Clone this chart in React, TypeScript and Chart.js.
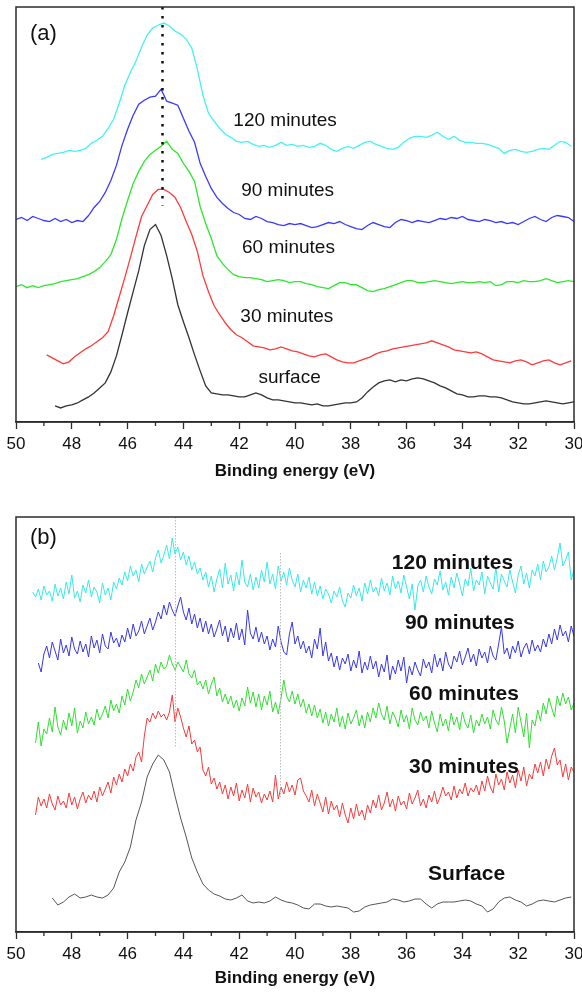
import React, { useEffect, useRef } from 'react';
import { Chart, registerables } from 'chart.js';

Chart.register(...registerables);

// ---------- shared axis ----------
const ENERGY_MIN = 30;
const ENERGY_MAX = 50;
const MAJOR_TICK_STEP = 2;
const MINOR_TICKS = [49, 47, 45, 43, 41, 39, 37, 35, 33, 31];
const AXIS_TITLE = 'Binding energy (eV)';

// ---------- panel (a): smoothed spectra, 0.2 eV step ----------
const A_STEP = 0.2;
const A_Y_MAX = 414;
const a120Start = 49.1;
const a120 = [
  262, 264, 267, 268, 269, 271, 270, 271, 273, 278,
  281, 285, 293, 302, 318, 336, 349, 360, 374, 386,
  393, 396, 398, 395, 390, 387, 382, 373, 352, 326,
  308, 300, 293, 287, 284, 280, 279, 280, 277, 275,
  276, 274, 276, 279, 276, 277, 275, 276, 274, 275,
  278, 276, 272, 270, 273, 275, 273, 276, 279, 280,
  277, 275, 273, 272, 274, 279, 283, 285, 285, 284,
  286, 289, 285, 282, 285, 281, 279, 279, 278, 278,
  277, 275, 273, 268, 271, 272, 270, 269, 270, 272,
  273, 272, 276, 280, 279, 275,
];
const a90Start = 50.0;
const a90 = [
  202, 204, 201, 205, 203, 201, 200, 203, 200, 202,
  199, 201, 200, 206, 214, 220, 229, 241, 256, 276,
  292, 306, 317, 321, 324, 325, 332, 320, 318, 316,
  303, 290, 279, 258, 245, 233, 224, 218, 213, 209,
  207, 203, 202, 205, 203, 200, 199, 197, 196, 198,
  197, 198, 196, 194, 195, 197, 199, 198, 200, 197,
  195, 193, 192, 196, 199, 197, 195, 194, 199, 202,
  201, 199, 201, 200, 199, 201, 203, 202, 204, 203,
  205, 202, 201, 200, 202, 201, 199, 200, 198, 199,
  197, 200, 203, 205, 202, 200, 204, 206, 205, 204,
  200,
];
const a60Start = 50.0;
const a60 = [
  135, 137, 134, 136, 134, 136, 137, 138, 140, 141,
  142, 143, 145, 147, 150, 154, 160, 167, 182, 203,
  221, 238, 250, 260, 267, 271, 275, 280, 272, 268,
  258, 250, 240, 215, 198, 183, 166, 158, 152, 147,
  145, 144, 144, 143, 142, 140, 141, 142, 141, 139,
  140, 140, 138, 137, 135, 134, 133, 136, 139, 139,
  137, 137, 134, 131, 130, 132, 133, 135, 137, 139,
  141, 141, 139, 139, 140, 141, 140, 139, 138, 139,
  140, 139, 139, 140, 139, 140, 136, 137, 140, 140,
  139, 141, 140, 140, 141, 143, 141, 139, 140, 141,
  140,
];
const a30Start = 48.9;
const a30 = [
  67, 64, 61, 58, 60, 65, 69, 73, 76, 80,
  84, 90, 106, 125, 144, 164, 185, 205, 216, 227,
  232, 232, 229, 224, 214, 200, 187, 170, 146, 130,
  116, 107, 99, 92, 87, 84, 80, 76, 75, 74,
  72, 73, 75, 73, 71, 70, 68, 66, 65, 67,
  68, 65, 62, 60, 59, 59, 61, 63, 65, 68,
  70, 71, 73, 74, 75, 76, 77, 78, 79, 81,
  79, 77, 75, 72, 71, 70, 69, 70, 68, 65,
  62, 61, 60, 59, 61, 62, 60, 57, 59, 61,
  62, 59, 57, 59, 61,
];
const aSurfStart = 48.6;
const aSurf = [
  16, 14, 16, 17, 19, 22, 25, 29, 34, 39,
  50, 66, 87, 109, 130, 151, 176, 192, 197, 186,
  166, 143, 117, 100, 84, 67, 51, 36, 29, 28,
  27, 27, 26, 25, 25, 27, 29, 27, 24, 22,
  22, 21, 20, 19, 19, 18, 17, 18, 16, 16,
  17, 18, 19, 19, 20, 24, 30, 35, 39, 41,
  42, 40, 42, 41, 43, 44, 43, 41, 39, 36,
  34, 31, 28, 27, 25, 25, 26, 26, 25, 25,
  24, 22, 20, 19, 18, 18, 19, 20, 21, 20,
  19, 18, 19, 20,
];

// ---------- panel (b): raw spectra, 0.1 eV step ----------
const B_STEP = 0.1;
const B_Y_MAX = 415;
const b120Start = 49.4;
const b120 = [
  340, 335, 343, 332, 346, 337, 341, 331, 348, 336,
  344, 333, 350, 338, 357, 334, 341, 330, 347, 339,
  352, 335, 345, 340, 329, 349, 337, 344, 332, 350,
  343, 354, 347, 360, 351, 366, 356, 362, 350, 368,
  358, 365, 371, 360, 374, 382, 369, 377, 387, 373,
  394, 378, 385, 372, 380, 367, 376, 362, 370, 358,
  364, 352, 360, 345, 356, 340, 353, 363, 344, 369,
  348, 357, 341, 360, 347, 372, 350, 345, 358, 342,
  355, 344, 362, 350, 370, 348, 358, 343, 366, 351,
  360, 347, 364, 352, 345, 358, 340, 352, 344, 355,
  338, 350, 336, 346, 333, 343, 338, 329, 341, 335,
  345, 331, 325, 339, 334, 347, 336, 344, 331, 349,
  338, 352, 340, 345, 336, 354, 341, 349, 337, 356,
  343, 351, 339, 357, 345, 333, 348, 322, 346, 352,
  340, 356, 345, 338, 353, 347, 361, 342, 350, 337,
  355, 344, 359, 348, 336, 353, 346, 364, 341, 352,
  347, 360, 338, 356, 349, 343, 365, 340, 358, 351,
  345, 362, 350, 339, 357, 366, 348, 359, 344, 362,
  356, 368, 352, 371, 360, 365, 376, 362, 374, 389,
  366, 372, 380, 352, 362,
];
const b90Start = 49.2;
const b90 = [
  269, 260, 278, 286, 274, 290, 281, 272, 293, 279,
  287, 276, 295, 283, 278, 291, 280, 288, 275, 296,
  284, 292, 279, 298, 286, 283, 300, 289, 294, 285,
  297, 290, 304, 293, 308, 296, 301, 311, 298, 306,
  314, 302, 310, 320, 313, 327, 317, 330, 322, 316,
  326, 335, 320, 312, 324, 308, 318, 304, 314, 300,
  311, 298, 308, 295, 303, 312, 296, 306, 290, 304,
  294, 309, 292, 303, 287, 322, 299, 293, 305, 290,
  300, 288, 296, 282, 293, 285, 306, 290, 280, 277,
  298, 310, 288, 296, 283, 291, 279, 286, 274, 293,
  283, 304, 276, 290, 271, 279, 265, 276, 262, 274,
  268, 278, 261, 272, 264, 281, 259, 270, 262, 276,
  263, 271, 255, 268, 260, 277, 252, 266, 258, 272,
  261, 275, 249, 266, 257, 270, 262, 256, 273, 264,
  270, 259, 278, 265, 274, 261, 280, 268, 263, 276,
  270, 281, 267, 275, 284, 270, 278, 266, 283, 274,
  280, 269, 286, 276, 272, 288, 305, 278, 284, 273,
  286, 279, 291, 275, 284, 289, 278, 292, 281, 287,
  280, 293, 285, 298, 288, 303, 292, 307, 296, 301,
  290, 306, 296,
];
const b60Start = 49.3;
const b60 = [
  189, 210, 186, 203, 198, 214, 200, 225, 205, 197,
  212, 202, 219, 206, 224, 199, 211, 204, 220, 208,
  215, 207, 223, 212, 218, 226, 214, 232, 221, 228,
  219, 236, 227, 243, 231, 240, 252, 244, 258, 248,
  255, 262, 251, 268, 259, 270, 263, 266, 277, 268,
  262, 270, 265, 260, 272, 258, 254, 262, 247, 251,
  243, 252, 238, 248, 255, 236, 244, 230, 238, 228,
  236, 224, 232, 221, 234, 226, 245, 229, 240, 225,
  238, 222, 236, 227, 241, 220, 230, 218, 234, 252,
  236, 230, 241, 228, 238, 225, 233, 219, 228, 216,
  227, 214, 223, 209, 220, 206, 218, 210, 224, 205,
  216, 203, 219, 208, 214, 222, 206, 217, 204, 220,
  210, 224, 214, 229, 218, 212, 226, 208, 220, 214,
  205, 222, 210, 217, 203, 224, 212, 207, 220, 211,
  216, 204, 221, 209, 200, 218, 206, 213, 201, 219,
  207, 215, 202, 220, 209, 204, 217, 199, 212, 206,
  218, 208, 215, 203, 222, 212, 207, 225, 211, 189,
  204, 218, 199, 225, 210, 195, 219, 184, 212, 206,
  222, 211, 229, 218, 234, 224, 215, 236, 226, 239,
  228, 235, 222, 229,
];
const b30Start = 49.3;
const b30 = [
  117, 135, 126, 133, 124, 138, 128, 122, 136, 127,
  131, 124, 139, 127, 135, 123, 133, 140, 129, 137,
  132, 141, 130, 145, 136, 143, 150, 139, 155, 147,
  158, 150, 163, 156, 168, 161, 175, 180, 170, 196,
  214, 210, 219, 213, 221, 215, 218, 212, 220, 237,
  210, 224, 215, 204, 195, 206, 188, 192, 180, 185,
  162, 156, 165, 148, 154, 143, 150, 138, 147, 133,
  145, 136, 149, 131, 142, 134, 148, 130, 144, 135,
  140, 129, 138, 132, 141, 130, 157, 133, 145, 138,
  150, 140, 147, 137, 152, 154, 141, 136, 130, 142,
  126, 138, 129, 120, 135, 118, 131, 122, 127, 115,
  129, 117, 109, 124, 113, 128, 116, 122, 112, 127,
  119, 132, 124, 137, 122, 129, 140, 125, 133, 121,
  136, 127, 131, 123, 139, 128, 134, 142, 126, 133,
  124, 137, 130, 141, 128, 135, 145, 136, 140, 132,
  146, 134, 143, 138, 149, 136, 144, 140, 147, 137,
  151, 141, 156, 145, 139, 158, 147, 153, 142, 160,
  149, 157, 144, 162, 151, 165, 146, 158, 153, 168,
  159, 170, 156, 173, 163, 176, 184, 167, 172, 155,
  168, 152, 165, 160,
];
const bSurfStep = 0.2;
const bSurfStart = 48.7;
const bSurf = [
  34, 27, 30, 35, 38, 34, 35, 37, 35, 34,
  37, 44, 60, 70, 85, 112, 130, 155, 168, 177,
  172, 160, 136, 114, 95, 74, 60, 48, 42, 38,
  36, 33, 32, 34, 37, 31, 29, 30, 29, 31,
  35, 32, 30, 29, 27, 24, 23, 28, 28, 26,
  25, 26, 25, 24, 20, 21, 25, 27, 28, 29,
  30, 33, 32, 30, 31, 33, 33, 28, 24, 28,
  30, 30, 30, 31, 32, 31, 28, 26, 20, 23,
  30, 34, 35, 32, 30, 26, 28, 31, 32, 31,
  30, 32, 34, 35,
];

// ---------- annotations ----------
const seriesLabels = ['120 minutes', '90 minutes', '60 minutes', '30 minutes'];
const aSurfaceLabel = 'surface';
const bSurfaceLabel = 'Surface';
// [energy (eV), intensity] anchor of each label (left/baseline)
const aLabelAnchors = [[42.21, 295], [41.93, 225], [41.9, 169], [41.96, 100], [41.31, 39]];
const bLabelAnchors = [[36.53, 363], [36.06, 303], [35.91, 232], [35.91, 159], [35.23, 52]];
const aPanelTag = ['(a)', 49.5, 381];
const bPanelTag = ['(b)', 49.5, 388];
// dotted guide lines: [energy, from intensity, to intensity]
const aGuides = [[44.76, 414, 216]];
const bGuides = [[44.3, 415, 184], [40.53, 379, 135]];

function toPoints(start: number, step: number, values: number[]) {
  return values.map((v, i) => ({ x: Math.round((start - i * step) * 100) / 100, y: v }));
}

const FONT = '"Liberation Sans", Arial, Helvetica, sans-serif';

const framePlugin = {
  id: 'frame',
  afterDraw(chart: any) {
    const { ctx, chartArea: a } = chart;
    const xs = chart.scales.x;
    ctx.save();
    ctx.strokeStyle = '#2b2b2b';
    ctx.lineWidth = 1.5;
    ctx.strokeRect(a.left, a.top, a.right - a.left, a.bottom - a.top);
    ctx.lineWidth = 1.3;
    ctx.beginPath();
    for (const v of MINOR_TICKS) {
      const px = xs.getPixelForValue(v);
      ctx.moveTo(px, a.bottom);
      ctx.lineTo(px, a.bottom + 4);
    }
    ctx.stroke();
    ctx.restore();
  },
};

const guidePlugin = {
  id: 'guides',
  afterDatasetsDraw(chart: any, _args: any, opts: any) {
    const { ctx } = chart;
    const xs = chart.scales.x;
    const ys = chart.scales.y;
    ctx.save();
    ctx.strokeStyle = opts.color;
    ctx.lineWidth = opts.width;
    ctx.setLineDash(opts.dash);
    for (const [e, y0, y1] of opts.lines) {
      const px = Math.round(xs.getPixelForValue(e)) + 0.5;
      ctx.beginPath();
      ctx.moveTo(px, ys.getPixelForValue(y0));
      ctx.lineTo(px, ys.getPixelForValue(y1));
      ctx.stroke();
    }
    ctx.restore();
  },
};

const notePlugin = {
  id: 'notes',
  afterDraw(chart: any, _args: any, opts: any) {
    const { ctx } = chart;
    const xs = chart.scales.x;
    const ys = chart.scales.y;
    ctx.save();
    ctx.fillStyle = '#111';
    ctx.textAlign = 'left';
    ctx.textBaseline = 'alphabetic';
    ctx.font = `${opts.weight} ${opts.size}px ${FONT}`;
    opts.texts.forEach((t: string, i: number) => {
      const [e, v] = opts.anchors[i];
      ctx.fillText(t, xs.getPixelForValue(e), ys.getPixelForValue(v));
    });
    const [tag, te, tv] = opts.tag;
    ctx.font = `normal 22px ${FONT}`;
    ctx.fillText(tag, xs.getPixelForValue(te), ys.getPixelForValue(tv));
    ctx.restore();
  },
};

function makeConfig(p: any) {
  return {
    type: 'line',
    data: {
      datasets: p.series.map((s: any) => ({
        data: s.points,
        borderColor: s.color,
        borderWidth: p.lineWidth,
        pointRadius: 0,
        fill: false,
        tension: 0,
      })),
    },
    options: {
      animation: false,
      responsive: false,
      maintainAspectRatio: false,
      events: [],
      parsing: false,
      layout: { padding: { top: p.padTop, left: 16, right: 8, bottom: 0 } },
      plugins: {
        legend: { display: false },
        tooltip: { enabled: false },
        guides: p.guides,
        notes: p.notes,
      },
      scales: {
        x: {
          type: 'linear',
          min: ENERGY_MIN,
          max: ENERGY_MAX,
          reverse: true,
          afterFit(scale: any) {
            scale.height = p.axisHeight;
            scale.paddingLeft = 0;
            scale.paddingRight = 0;
          },
          ticks: {
            stepSize: MAJOR_TICK_STEP,
            padding: 5,
            maxRotation: 0,
            autoSkip: false,
            color: '#111',
            font: { family: FONT, size: 17 },
          },
          grid: {
            drawOnChartArea: false,
            drawTicks: true,
            tickLength: 7,
            tickWidth: 1.3,
            tickColor: '#2b2b2b',
          },
          border: { display: true, color: '#2b2b2b', width: 1.5 },
          title: {
            display: true,
            text: AXIS_TITLE,
            color: '#111',
            font: { family: FONT, size: 17, weight: 'bold' },
            padding: { top: 0, bottom: p.titlePad },
          },
        },
        y: {
          type: 'linear',
          display: false,
          min: 0,
          max: p.yMax,
        },
      },
    },
    plugins: [framePlugin, guidePlugin, notePlugin],
  };
}

const panelA = {
  padTop: 7,
  axisHeight: 74,
  titlePad: 14,
  yMax: A_Y_MAX,
  lineWidth: 1.3,
  series: [
    { points: toPoints(a120Start, A_STEP, a120), color: '#45f2f2' },
    { points: toPoints(a90Start, A_STEP, a90), color: '#3a3aff' },
    { points: toPoints(a60Start, A_STEP, a60), color: '#2fe62f' },
    { points: toPoints(a30Start, A_STEP, a30), color: '#ff3a3a' },
    { points: toPoints(aSurfStart, A_STEP, aSurf), color: '#333333' },
  ],
  guides: { lines: aGuides, color: '#111', width: 2.5, dash: [2.5, 6.5] },
  notes: {
    texts: [...seriesLabels, aSurfaceLabel],
    anchors: aLabelAnchors,
    weight: 'normal',
    size: 19,
    tag: aPanelTag,
  },
};

const panelB = {
  padTop: 21,
  axisHeight: 60,
  titlePad: 3,
  yMax: B_Y_MAX,
  lineWidth: 1,
  series: [
    { points: toPoints(b120Start, B_STEP, b120), color: '#38e8e8' },
    { points: toPoints(b90Start, B_STEP, b90), color: '#3838e8' },
    { points: toPoints(b60Start, B_STEP, b60), color: '#33dd33' },
    { points: toPoints(b30Start, B_STEP, b30), color: '#f53c3c' },
    { points: toPoints(bSurfStart, bSurfStep, bSurf), color: '#555555' },
  ],
  guides: { lines: bGuides, color: '#bdbdbd', width: 1, dash: [1.5, 1.5] },
  notes: {
    texts: [...seriesLabels, bSurfaceLabel],
    anchors: bLabelAnchors,
    weight: 'bold',
    size: 21,
    tag: bPanelTag,
  },
};

function Panel({ cfg }: { cfg: any }) {
  const ref = useRef<HTMLCanvasElement>(null);
  useEffect(() => {
    if (!ref.current) return;
    const chart = new Chart(ref.current, makeConfig(cfg) as any);
    return () => chart.destroy();
  }, [cfg]);
  return <canvas ref={ref} width={582} height={496} style={{ display: 'block', width: 582, height: 496 }} />;
}

export default function App() {
  return (
    <div style={{ position: 'absolute', left: 0, top: 0, width: 582, height: 992, background: '#fff' }}>
      <Panel cfg={panelA} />
      <Panel cfg={panelB} />
    </div>
  );
}
